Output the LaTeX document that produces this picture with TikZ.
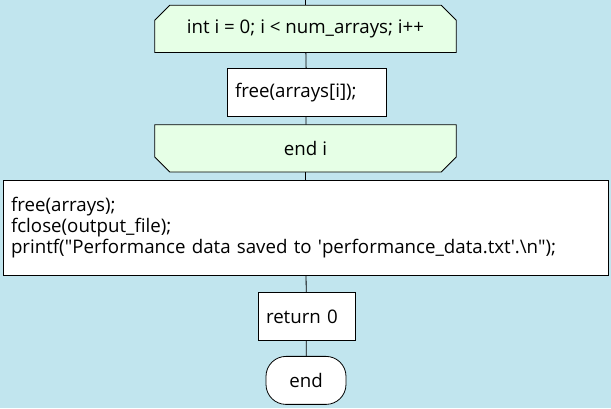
\documentclass[tikz,border=0pt]{standalone}
\usepackage{fontspec}
\setmainfont{Open Sans}
\usetikzlibrary{backgrounds,positioning}
\definecolor{bgblue}{RGB}{193,229,238}
\definecolor{loopgreen}{RGB}{230,255,230}
\tikzset{loopbox/.style={
            rectangle,
            minimum width=301pt,
            minimum height=47pt,
            inner sep=0pt,
            font=\fontsize{18.7}{21}\selectfont
        },
        loopedge/.style={
            draw,
            fill=loopgreen,
            line width=0.8pt
        },
        stepbox/.style={
            draw,
            fill=white,
            line width=0.8pt,
            inner xsep=8pt,
            inner ysep=0pt,
            align=left,
            minimum height=48pt,
            font=\fontsize{18.7}{21}\selectfont
        },
        termbox/.style={
            draw,
            fill=white,
            line width=0.8pt,
            rounded corners=20pt,
            minimum width=80pt,
            minimum height=48pt,
            font=\fontsize{18.7}{21}\selectfont
        },
        flow/.style={
            line width=0.8pt
        }
    }
\begin{document}
\begin{tikzpicture}[x=1pt,y=-1pt]
        \node[loopbox] (loop) at (305.5,28.5) {int i = 0; i < num\_arrays; i++};
        \node[stepbox,text width=143pt] (freei) at (306.5,92) {free(arrays[i]);};
        \node[loopbox] (endi) at (305.5,148) {end i};
        \node[stepbox,text width=589pt,minimum height=95pt] (cleanup) at (305.5,227.5) {free(arrays);\\fclose(output\_file);\\printf(\textquotedbl Performance data saved to \textquotesingle performance\_data.txt\textquotesingle.\textbackslash n\textquotedbl);};
        \node[stepbox,text width=81pt] (ret) at (306.5,316) {return 0};
        \node[termbox] (stop) at (306,380) {end};
        \coordinate (entry) at (305.5,0);
        \begin{scope}[on background layer]
            \fill[bgblue] (0,0) rectangle (611,408);
            % loop head: top corners cut
            \draw[loopedge] ([xshift=15pt]loop.north west) -- ([xshift=-15pt]loop.north east)
                -- ([yshift=-15pt]loop.north east) -- (loop.south east)
                -- (loop.south west) -- ([yshift=-15pt]loop.north west) -- cycle;
            % loop tail: bottom corners cut
            \draw[loopedge] (endi.north west) -- (endi.north east)
                -- ([yshift=15pt]endi.south east) -- ([xshift=-15pt]endi.south east)
                -- ([xshift=15pt]endi.south west) -- ([yshift=15pt]endi.south west) -- cycle;
            \draw[flow] (entry) -- (loop);
            \draw[flow] (loop) -- (freei);
            \draw[flow] (freei) -- (endi);
            \draw[flow] (endi) -- (cleanup);
            \draw[flow] (cleanup) -- (ret);
            \draw[flow] (ret) -- (stop);
        \end{scope}
    \end{tikzpicture}
\end{document}
